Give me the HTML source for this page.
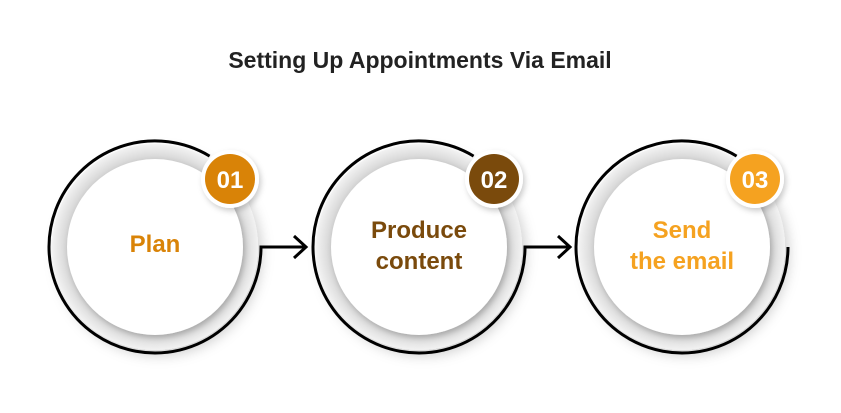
<!DOCTYPE html>
<html><head><style>
body{margin:0;width:841px;height:408px;background:#fff;overflow:hidden;font-family:"Liberation Sans",sans-serif}
</style></head><body>
<svg width="841" height="408" xmlns="http://www.w3.org/2000/svg">
<defs>
<radialGradient id="g" cx="50%" cy="50%" r="50%">
<stop offset="80%" stop-color="#c8c8c8"/><stop offset="92%" stop-color="#e2e2e2"/><stop offset="100%" stop-color="#f2f2f2"/>
</radialGradient>
<filter id="s" x="-30%" y="-30%" width="160%" height="160%"><feDropShadow dx="4" dy="6" stdDeviation="6" flood-color="#000" flood-opacity="0.18"/></filter>
<filter id="s2" x="-30%" y="-30%" width="160%" height="160%"><feDropShadow dx="2" dy="3" stdDeviation="3" flood-color="#000" flood-opacity="0.2"/></filter>
</defs>
<text x="420" y="68" text-anchor="middle" font-size="23" font-weight="bold" fill="#222">Setting Up Appointments Via Email</text>
<g transform="translate(155,247)">
<circle r="103" fill="url(#g)" filter="url(#s)"/>
<circle r="88" fill="#fff" filter="url(#s2)"/>
<path d="M54.6,-90.9 A106,106 0 1 0 106,0 L150,0" fill="none" stroke="#000" stroke-width="3"/>
<path d="M139,-11 L151,0 L139,11" fill="none" stroke="#000" stroke-width="3"/>
<circle cx="75" cy="-68" r="29" fill="#fff" filter="url(#s2)"/>
<circle cx="75" cy="-68" r="25" fill="#d98307"/>
<text x="75" y="-59" text-anchor="middle" font-size="24" font-weight="bold" fill="#fff">01</text>
<text x="0" y="5" text-anchor="middle" font-size="24" font-weight="bold" fill="#d98307">Plan</text>
</g>
<g transform="translate(419,247)">
<circle r="103" fill="url(#g)" filter="url(#s)"/>
<circle r="88" fill="#fff" filter="url(#s2)"/>
<path d="M54.6,-90.9 A106,106 0 1 0 106,0 L150,0" fill="none" stroke="#000" stroke-width="3"/>
<path d="M139,-11 L151,0 L139,11" fill="none" stroke="#000" stroke-width="3"/>
<circle cx="75" cy="-68" r="29" fill="#fff" filter="url(#s2)"/>
<circle cx="75" cy="-68" r="25" fill="#7a4a0c"/>
<text x="75" y="-59" text-anchor="middle" font-size="24" font-weight="bold" fill="#fff">02</text>
<text x="0" y="-9" text-anchor="middle" font-size="24" font-weight="bold" fill="#7a4a0c">Produce</text>
<text x="0" y="22" text-anchor="middle" font-size="24" font-weight="bold" fill="#7a4a0c">content</text>
</g>
<g transform="translate(682,247)">
<circle r="103" fill="url(#g)" filter="url(#s)"/>
<circle r="88" fill="#fff" filter="url(#s2)"/>
<path d="M54.6,-90.9 A106,106 0 1 0 106,0" fill="none" stroke="#000" stroke-width="3"/>
<circle cx="73" cy="-68" r="29" fill="#fff" filter="url(#s2)"/>
<circle cx="73" cy="-68" r="25" fill="#f5a220"/>
<text x="73" y="-59" text-anchor="middle" font-size="24" font-weight="bold" fill="#fff">03</text>
<text x="0" y="-9" text-anchor="middle" font-size="24" font-weight="bold" fill="#f5a220">Send</text>
<text x="0" y="22" text-anchor="middle" font-size="24" font-weight="bold" fill="#f5a220">the email</text>
</g>
</svg>
</body></html>
